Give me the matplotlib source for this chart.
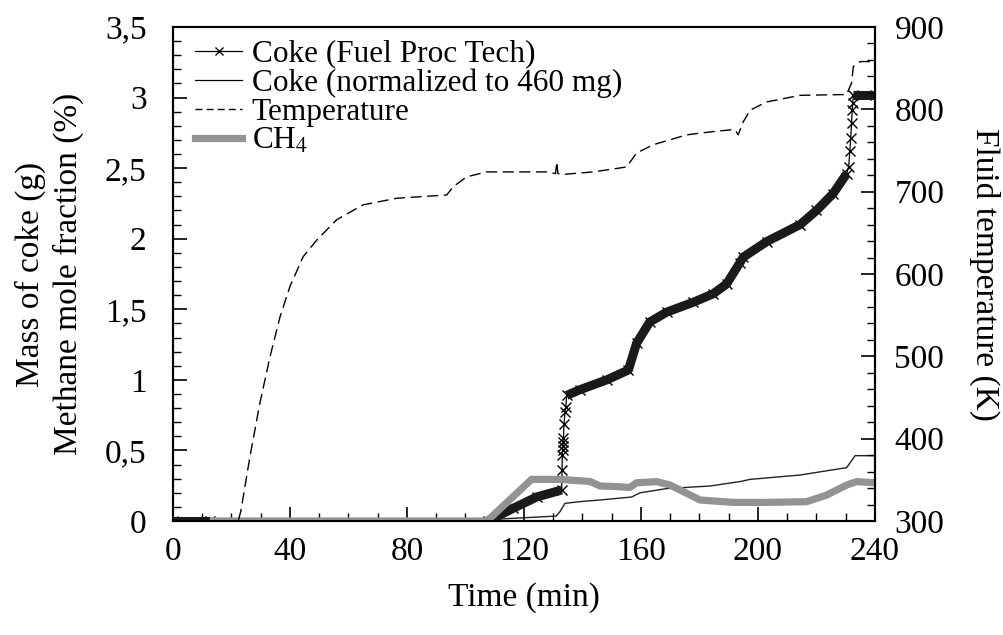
import numpy as np
import matplotlib
matplotlib.use("Agg")
import matplotlib.pyplot as plt
from matplotlib.lines import Line2D
from matplotlib.ticker import MultipleLocator, FuncFormatter

# coke mass, Fuel Proc Tech (g) -- dense sampling drawn as a thick band
fpt_t = [0, 12.6, 107.8, 116.3, 124.3, 132.9,
         133.0, 133.1, 133.2, 133.3, 133.4, 133.5, 133.7, 134.0, 134.3,
         134.6, 139.1, 148.3, 155.7, 158.5, 163, 168.8, 177.9, 184.7, 189.3,
         193.8, 195, 203, 214.4, 220, 225.7, 230.3,
         231.0, 231.4, 231.7, 232.0, 232.2, 232.4,
         232.6, 240]
fpt_y = [0, 0, 0, 0.09, 0.17, 0.22,
         0.36, 0.47, 0.50, 0.53, 0.56, 0.59, 0.69, 0.77, 0.81,
         0.89, 0.93, 1.0, 1.07, 1.26, 1.41, 1.48, 1.55, 1.61, 1.68,
         1.83, 1.87, 1.98, 2.10, 2.20, 2.32, 2.46,
         2.51, 2.62, 2.71, 2.82, 2.91, 2.96,
         3.02, 3.02]
# time spans where the markers are packed into a solid band
dense_spans = [(0, 12.6), (107.8, 132.9), (134.6, 230.3), (232.6, 240)]

# coke normalized to 460 mg (g)
norm_t = [0, 108, 131, 132.3, 134, 139, 146, 156.8, 159.7, 168.8, 183.6,
          194, 197.3, 214.4, 230.3, 233.2, 240]
norm_y = [0, 0.01, 0.035, 0.066, 0.125, 0.137, 0.149, 0.17, 0.2, 0.23, 0.248,
          0.28, 0.295, 0.326, 0.378, 0.463, 0.463]

# methane mole fraction (%)
ch4_t = [12.6, 107, 108.4, 122.6, 132.3, 142.6, 146, 150.5, 156.2, 158.5, 165.4,
         169.9, 174.5, 180.2, 191.5, 203, 216.6, 223.5, 230.3, 233.7, 240]
ch4_y = [0, 0, 0.02, 0.295, 0.295, 0.28, 0.248, 0.245, 0.238, 0.271, 0.279,
         0.255, 0.208, 0.149, 0.132, 0.132, 0.137, 0.184, 0.255, 0.279, 0.271]

# fluid temperature (K)
temp_t = [0, 22.3, 23.2, 26.3, 29.7, 33.2, 36.6, 40, 44.5, 49.1, 56, 65, 76.5, 93.6,
          95.8, 100.4, 107.2, 128, 130.8, 131.2, 131.6, 133.4, 143.7, 155.1,
          158.5, 164.2, 175.6, 184.7, 190.4, 192.2, 193.2, 195, 197.3, 203,
          214.4, 230.3, 232, 232.6, 234.9, 240]
temp_T = [300, 300, 312, 378, 443, 500, 548, 585, 621, 641, 666, 684, 692, 696,
          706, 718, 724, 724, 722, 736, 722, 721, 724, 730,
          747, 757, 769, 773, 775, 775, 769, 785, 799, 809,
          817, 818, 832, 852, 858, 858]

plt.rcParams["font.family"] = ["Liberation Serif", "DejaVu Serif"]
plt.rcParams["mathtext.fontset"] = "stix"
GREY = "#939393"
FS = 24

fig = plt.figure(figsize=(10.04, 6.35), dpi=100)
ax = fig.add_axes([0.1723, 0.1795, 0.6992, 0.778])
ax2 = ax.twinx()

t = np.array(fpt_t)
y = np.array(fpt_y)
ax.plot(t, y, color="black", lw=0.9, marker="x", ms=7, mew=1.0, zorder=3)
for a, b in dense_spans:
    m = (t >= a) & (t <= b)
    ax.plot(t[m], y[m], color="#1a1a1a", lw=6.5, solid_capstyle="butt",
            solid_joinstyle="round", zorder=3)
ax.plot(norm_t, norm_y, color="#222222", lw=1.0, zorder=4)
ax.plot(ch4_t, ch4_y, color=GREY, lw=5.2, solid_capstyle="butt", zorder=5)

ax2.plot(temp_t, temp_T, color="black", lw=1.0, ls=(0, (8, 4)))

ax.set_xlim(0, 240)
ax.set_ylim(0, 3.5)
ax2.set_ylim(300, 900)
ax.xaxis.set_major_locator(MultipleLocator(40))
ax.xaxis.set_minor_locator(MultipleLocator(10))
ax.yaxis.set_major_locator(MultipleLocator(0.5))
ax.yaxis.set_minor_locator(MultipleLocator(0.1))
ax2.yaxis.set_major_locator(MultipleLocator(100))
ax2.yaxis.set_minor_locator(MultipleLocator(20))
ax.yaxis.set_major_formatter(FuncFormatter(lambda v, p: f"{v:g}".replace(".", ",")))

for a in (ax, ax2):
    a.tick_params(which="major", direction="in", length=10, width=1.2, labelsize=FS)
    a.tick_params(which="minor", direction="in", length=6, width=1.0)
    for s in a.spines.values():
        s.set_linewidth(1.5)
ax.tick_params(axis="y", right=False, pad=19)
ax.tick_params(axis="x", pad=11)
ax2.tick_params(axis="y", pad=14)

ax.set_xlabel("Time (min)", fontsize=FS, labelpad=11)
ax.set_ylabel("Mass of coke (g)\nMethane mole fraction (%)", fontsize=FS,
              linespacing=1.3, labelpad=15)
ax2.set_ylabel("Fluid temperature (K)", fontsize=FS, rotation=270, labelpad=40)

handles = [
    Line2D([0, 0.5, 1], [0, 0, 0], color="black", lw=0.9, marker="x", ms=6,
           markevery=[1]),
    Line2D([], [], color="black", lw=0.9),
    Line2D([], [], color="black", lw=1.0, ls=(0, (5, 3))),
    Line2D([], [], color=GREY, lw=5.2),
]
labels = ["Coke (Fuel Proc Tech)", "Coke (normalized to 460 mg)",
          "Temperature", "CH$_4$"]
ax2.legend(handles, labels, loc="upper left", frameon=False, fontsize=22.5,
           handlelength=1.5, handletextpad=0.3, labelspacing=0.0,
           borderaxespad=0.0, bbox_to_anchor=(0.014, 1.0))

fig.savefig("out.png", dpi=100)
